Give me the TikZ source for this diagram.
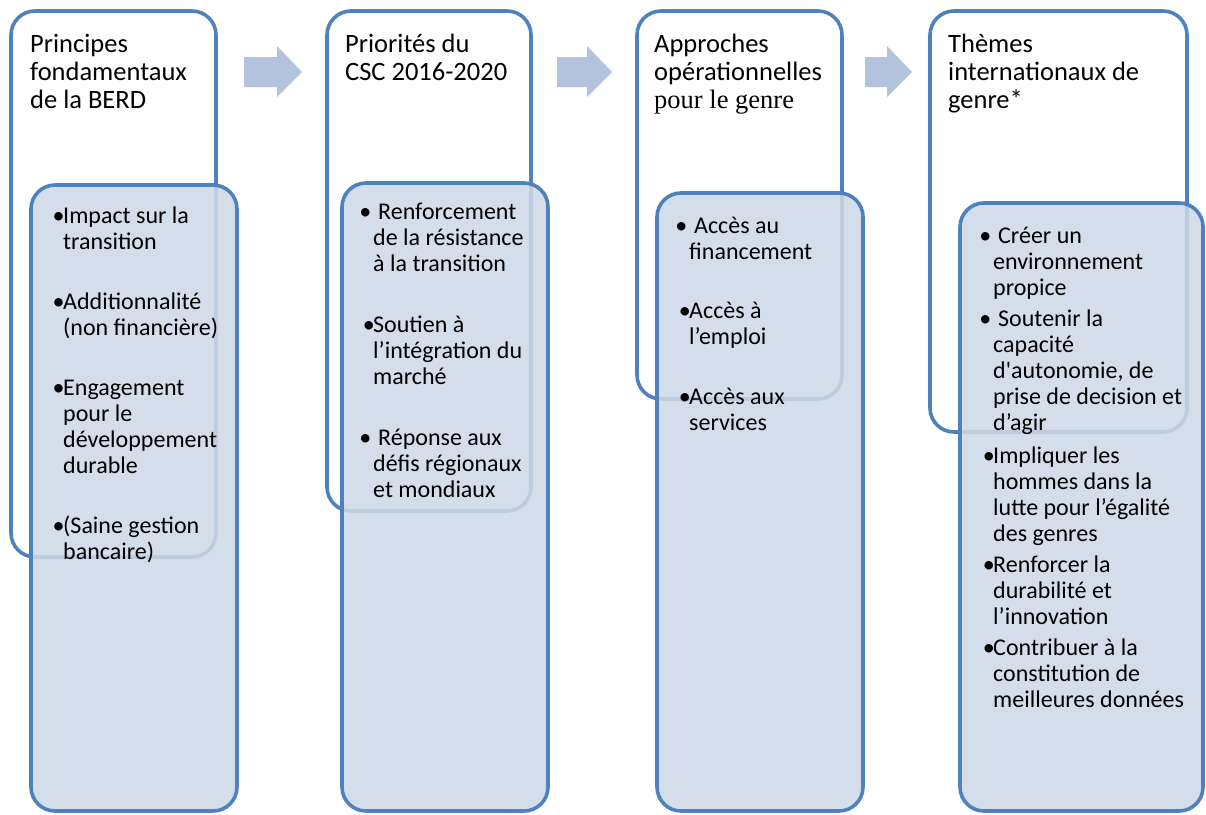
\documentclass[tikz,border=0pt]{standalone}
\usepackage{fontspec}
\setmainfont{Carlito}[Ligatures=TeXOff]
\newfontfamily\serifhead{Liberation Serif}
\definecolor{boxline}{HTML}{4F81BD}
\definecolor{boxfill}{HTML}{CED9E7}
\definecolor{arrowfill}{HTML}{B3C3DE}
\newcommand{\bul}{\llap{\textbullet\hspace{-1.5pt}}}
\newcommand{\sbul}{\llap{\textbullet\hspace{2pt}}\hspace{5pt}}
\tikzset{
  backbox/.style={draw=boxline, line width=3.6pt, rounded corners=24pt, fill=white},
  frontbox/.style={draw=boxline, line width=3.6pt, rounded corners=24pt, fill=boxfill, fill opacity=0.87},
  headtext/.style={anchor=base west, inner sep=0pt, align=left, font=\fontsize{26.5}{28}\selectfont},
  itemtext/.style={anchor=base west, inner sep=0pt, align=left, font=\fontsize{24}{26}\selectfont},
}

\begin{document}
\begin{tikzpicture}[x=1pt, y=-1pt]
  \useasboundingbox (0,0) rectangle (1206,814);

  % arrows between the columns
  \foreach \xa/\xb/\xc in {244/277/302, 557/587/612, 865/887/912}
    \fill[arrowfill] (\xa,57) -- (\xb,57) -- (\xb,46) -- (\xc,72) -- (\xb,97) -- (\xb,87) -- (\xa,87) -- cycle;

  % column 1 (nodes sit on the baseline of their last line)
  \draw[backbox] (11,11) rectangle (216,557);
  \node[headtext] (head1) at (30,108) {Principes\\fondamentaux\\de la BERD};
  \draw[frontbox] (31,185) rectangle (237,811);
  \node[itemtext] (item11) at (63,249) {\bul Impact sur la\\transition};
  \node[itemtext] (item12) at (63,335) {\bul Additionnalité\\(non financière)};
  \node[itemtext] (item13) at (63,473) {\bul Engagement\\pour le\\développement\\durable};
  \node[itemtext] (item14) at (63,559) {\bul (Saine gestion\\bancaire)};

  % column 2
  \draw[backbox] (327,11) rectangle (531,511);
  \node[headtext] (head2) at (345,80) {Priorités du\\CSC 2016-2020};
  \draw[frontbox] (342,183) rectangle (548,811);
  \node[itemtext] (item21) at (373,271) {\sbul Renforcement\\de la résistance\\à la transition};
  \node[itemtext] (item22) at (373,384) {\bul Soutien à\\l’intégration du\\marché};
  \node[itemtext] (item23) at (373,497) {\sbul Réponse aux\\défis régionaux\\et mondiaux};

  % column 3
  \draw[backbox] (637,11) rectangle (842,399);
  \node[headtext] (head3) at (654,108) {Approches\\opérationnelles\\{\serifhead pour le genre}};
  \draw[frontbox] (657,193) rectangle (863,811);
  \node[itemtext] (item31) at (689,259) {\sbul Accès au\\financement};
  \node[itemtext] (item32) at (689,344) {\bul Accès à\\l’emploi};
  \node[itemtext] (item33) at (689,430) {\bul Accès aux\\services};

  % column 4
  \draw[backbox] (930,11) rectangle (1187,432);
  \node[headtext] (head4) at (948,108) {Thèmes\\internationaux de\\genre*};
  \draw[frontbox] (960,203) rectangle (1203,811);
  \node[itemtext] (item41) at (993,295) {\sbul Créer un\\environnement\\propice};
  \node[itemtext] (item42) at (993,430) {\sbul Soutenir la\\capacité\\d'autonomie, de\\prise de decision et\\d’agir};
  \node[itemtext] (item43) at (993,541) {\bul Impliquer les\\hommes dans la\\lutte pour l’égalité\\des genres};
  \node[itemtext] (item44) at (993,624) {\bul Renforcer la\\durabilité et\\l’innovation};
  \node[itemtext] (item45) at (993,707) {\bul Contribuer à la\\constitution de\\meilleures données};
\end{tikzpicture}
\end{document}
